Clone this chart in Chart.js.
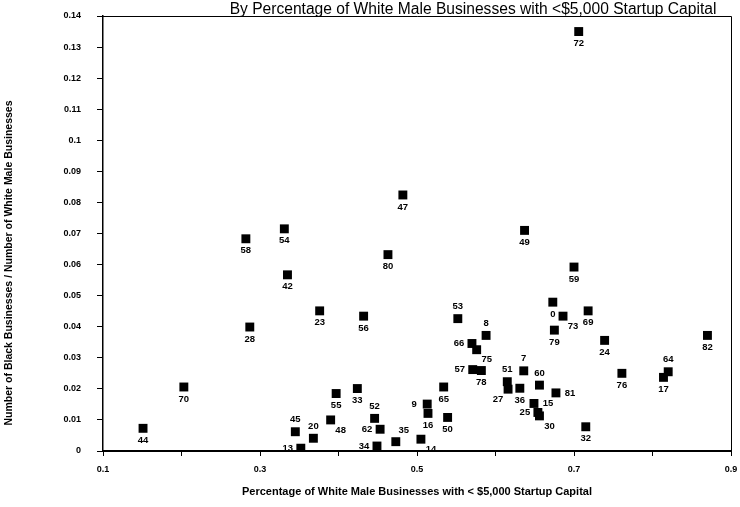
<!DOCTYPE html>
<html>
<head>
<meta charset="utf-8">
<script src="https://cdn.jsdelivr.net/npm/chart.js@4.4.1/dist/chart.umd.min.js"></script>
<style>
  html, body { margin: 0; padding: 0; background: #fff; }
  #wrap { width: 740px; height: 507px; }
</style>
</head>
<body>
<div id="wrap"><canvas id="chart" width="740" height="507"></canvas></div>
<script>
// point ids as printed next to each marker
const pointIds = [72, 47, 54, 58, 42, 80, 49, 59, 28, 23, 56, 53, 0, 73, 69, 79, 24, 82, 76, 64, 17,
  8, 66, 75, 57, 78, 7, 51, 27, 36, 60, 81, 15, 25, 30, 32, 65, 9, 16, 50, 14, 35, 34, 62, 52,
  33, 55, 48, 20, 13, 45, 70, 44];

// share of white male businesses started with < $5,000
const whiteSmallCapital = [0.706, 0.482, 0.331, 0.282, 0.335, 0.463, 0.637, 0.700, 0.287, 0.376, 0.432,
  0.552, 0.673, 0.686, 0.718, 0.675, 0.739, 0.870, 0.761, 0.820, 0.814,
  0.588, 0.570, 0.576, 0.571, 0.582, 0.636, 0.615, 0.616, 0.631, 0.656, 0.677, 0.649, 0.654, 0.656,
  0.715, 0.534, 0.513, 0.514, 0.539, 0.505, 0.473, 0.449, 0.453, 0.446,
  0.424, 0.397, 0.390, 0.368, 0.352, 0.345, 0.203, 0.151];

// black businesses / white male businesses
const blackToWhite = [0.135, 0.0824, 0.0715, 0.0683, 0.0567, 0.0632, 0.0710, 0.0592, 0.0399, 0.0451, 0.0434,
  0.0426, 0.0479, 0.0434, 0.0451, 0.0389, 0.0356, 0.0372, 0.0250, 0.0255, 0.0237,
  0.0372, 0.0346, 0.0326, 0.0262, 0.0259, 0.0258, 0.0223, 0.0199, 0.0202, 0.0212, 0.0187, 0.0153, 0.0124, 0.0113,
  0.0078, 0.0206, 0.0151, 0.0121, 0.0108, 0.0038, 0.0030, 0.0016, 0.0070, 0.0105,
  0.0201, 0.0185, 0.0100, 0.0041, 0.0009, 0.0062, 0.0206, 0.0073];

// which side of the marker the id is printed on
const labelSide = ['b', 'b', 'b', 'b', 'b', 'b', 'b', 'b', 'b', 'b', 'b',
  't', 'b', 'br', 'b', 'b', 'b', 'b', 'b', 't', 'b',
  't', 'l', 'br', 'l', 'b', 't', 't', 'bl', 'b', 't', 'r', 'r', 'l', 'br',
  'b', 'b', 'l', 'b', 'b', 'br', 'tr', 'l', 'l', 't',
  'b', 'b', 'br', 't', 'l', 't', 'b', 'b'];

const xTickLabels = ['0.1', '0.3', '0.5', '0.7', '0.9'];

const mainTitle = 'By Percentage of White Male Businesses with <$5,000 Startup Capital';
const xTitle = 'Percentage of White Male Businesses with < $5,000 Startup Capital';
const yTitle = 'Number of Black Businesses / Number of White Male Businesses';

const FONT = '"Liberation Sans", Arial, sans-serif';
const offsets = { b: [0, 12], t: [0, -12], l: [-13, 0], r: [14, 0], br: [10, 10], bl: [-10, 10], tr: [8, -11] };

const decor = {
  id: 'decor',
  beforeDraw(chart) {
    const c = chart.ctx;
    c.save();
    c.fillStyle = '#fff';
    c.fillRect(0, 0, chart.width, chart.height);
    c.restore();
  },
  afterDraw(chart) {
    const c = chart.ctx;
    const a = chart.chartArea;
    c.save();
    // frame on top and right
    c.strokeStyle = '#000';
    c.lineWidth = 1;
    c.beginPath();
    c.moveTo(a.left, a.top + 0.5);
    c.lineTo(a.right + 0.5, a.top + 0.5);
    c.lineTo(a.right + 0.5, a.bottom);
    c.stroke();

    c.fillStyle = '#000';
    c.font = '15.6px ' + FONT;
    c.textAlign = 'center';
    c.textBaseline = 'alphabetic';
    c.fillText(mainTitle, 473, 14);

    c.font = 'bold 10.5px ' + FONT;
    c.translate(9, 263);
    c.rotate(-Math.PI / 2);
    c.textBaseline = 'middle';
    c.fillText(yTitle, 0, 0);
    c.restore();
  },
  afterDatasetsDraw(chart) {
    const c = chart.ctx;
    const pts = chart.getDatasetMeta(0).data;
    c.save();
    c.fillStyle = '#000';
    c.font = 'bold 9.5px ' + FONT;
    c.textAlign = 'center';
    c.textBaseline = 'middle';
    pts.forEach((p, i) => {
      const o = offsets[labelSide[i]];
      c.fillText(String(pointIds[i]), p.x + o[0], p.y + o[1]);
    });
    c.restore();
  }
};

new Chart(document.getElementById('chart'), {
  type: 'scatter',
  data: {
    datasets: [{
      data: whiteSmallCapital.map((x, i) => ({ x, y: blackToWhite[i] })),
      pointStyle: 'rect',
      pointRadius: 6.3,
      backgroundColor: '#000',
      borderColor: '#000',
      borderWidth: 0
    }]
  },
  options: {
    responsive: false,
    animation: false,
    layout: { padding: { left: 0, right: 9, top: 16, bottom: 0 } },
    plugins: { legend: { display: false }, tooltip: { enabled: false }, title: { display: false } },
    scales: {
      x: {
        type: 'linear',
        min: 0.1,
        max: 0.9,
        afterFit: s => { s.height = 56; s.paddingLeft = 0; s.paddingRight = 0; },
        border: { display: true, color: '#000', width: 2 },
        grid: { display: true, drawOnChartArea: false, drawTicks: true, tickLength: 5, color: '#000' },
        ticks: {
          stepSize: 0.1,
          autoSkip: false,
          maxRotation: 0,
          padding: 8,
          color: '#000',
          font: { family: FONT, size: 9, weight: 'bold' },
          callback: (v, i) => (i % 2 === 0 ? xTickLabels[i / 2] : '')
        },
        title: {
          display: true,
          text: xTitle,
          color: '#000',
          font: { family: FONT, size: 11, weight: 'bold' },
          padding: { top: 0, bottom: 8 }
        }
      },
      y: {
        type: 'linear',
        min: 0,
        max: 0.14,
        afterFit: s => { s.width = 103; s.paddingTop = 0; s.paddingBottom = 0; },
        border: { display: true, color: '#000', width: 1.5 },
        grid: { display: true, drawOnChartArea: false, drawTicks: true, tickLength: 6, color: '#000' },
        ticks: {
          stepSize: 0.01,
          padding: 16,
          color: '#000',
          font: { family: FONT, size: 9, weight: 'bold' },
          callback: v => String(Number(v.toFixed(2)))
        }
      }
    }
  },
  plugins: [decor]
});
</script>
</body>
</html>
